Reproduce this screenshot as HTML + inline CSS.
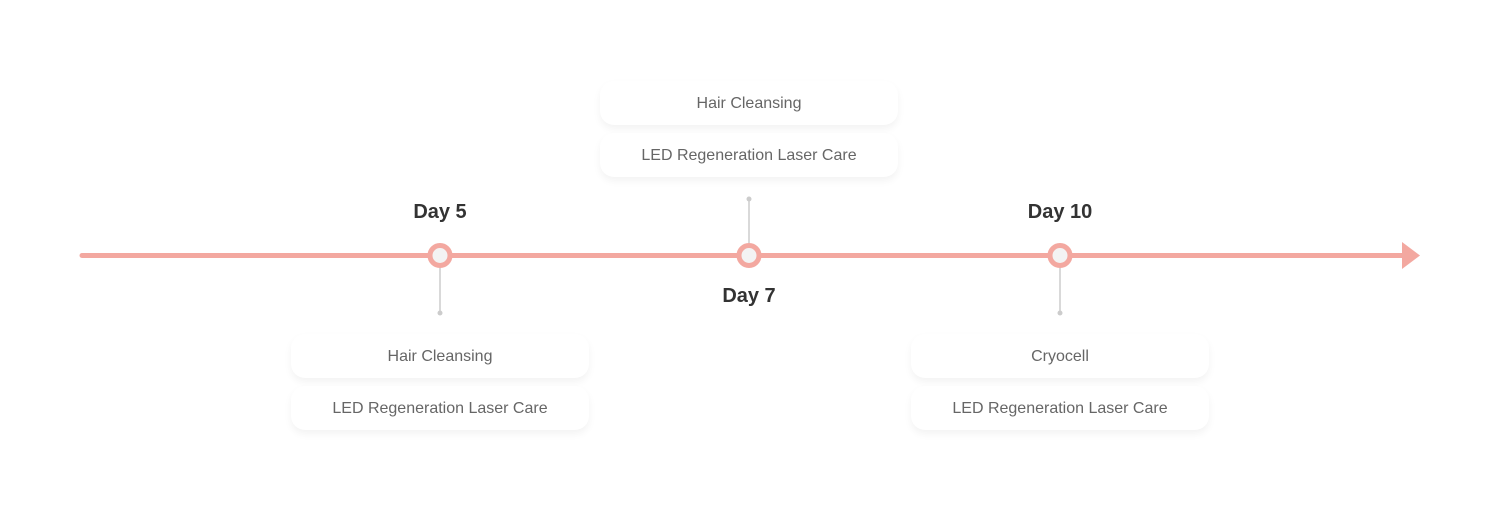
<!DOCTYPE html>
<html><head><style>
body{margin:0;width:1500px;height:507px;background:#fff;position:relative;font-family:"Liberation Sans",sans-serif;overflow:hidden}
.card{position:absolute;width:298px;height:44px;background:#fff;border-radius:14px;box-shadow:0 4px 8px rgba(0,0,0,0.05);text-align:center;line-height:46px;font-size:16px;color:#666}
.day{position:absolute;font-weight:bold;font-size:20px;color:#333;width:120px;text-align:center}
</style></head><body>
<svg width="1500" height="507" style="position:absolute;left:0;top:0">
<line x1="82" y1="255.5" x2="1405" y2="255.5" stroke="#f3a8a0" stroke-width="5" stroke-linecap="round"/>
<polygon points="1402,242 1420,255.5 1402,269" fill="#f3a8a0"/>
<g stroke="#ccc" stroke-width="1.5"><line x1="440" y1="268" x2="440" y2="313"/><line x1="749" y1="199" x2="749" y2="243"/><line x1="1060" y1="268" x2="1060" y2="313"/></g>
<g fill="#ccc"><circle cx="440" cy="313" r="2.5"/><circle cx="749" cy="199" r="2.5"/><circle cx="1060" cy="313" r="2.5"/></g>
<g fill="#f3f3f3" stroke="#f3a8a0" stroke-width="5"><circle cx="440" cy="255.5" r="10"/><circle cx="749" cy="255.5" r="10"/><circle cx="1060" cy="255.5" r="10"/></g>
</svg>
<div class="day" style="left:380px;top:201px">Day 5</div>
<div class="day" style="left:689px;top:285px">Day 7</div>
<div class="day" style="left:1000px;top:201px">Day 10</div>
<div class="card" style="left:291px;top:334px">Hair Cleansing</div>
<div class="card" style="left:291px;top:386px">LED Regeneration Laser Care</div>
<div class="card" style="left:600px;top:81px">Hair Cleansing</div>
<div class="card" style="left:600px;top:133px">LED Regeneration Laser Care</div>
<div class="card" style="left:911px;top:334px">Cryocell</div>
<div class="card" style="left:911px;top:386px">LED Regeneration Laser Care</div>
</body></html>
